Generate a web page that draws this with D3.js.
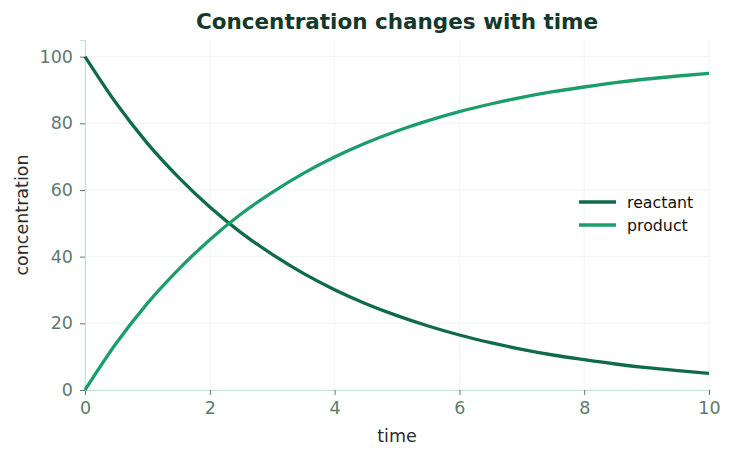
<!DOCTYPE html>
<html>
<head>
<meta charset="utf-8">
<script src="https://cdn.jsdelivr.net/npm/d3@7"></script>
<style>
  body { margin: 0; background: #fff; }
  text { font-family: "DejaVu Sans", sans-serif; }
</style>
</head>
<body>
<div class="chart"></div>
<script>
// values, every half unit of time
var times = [0, 0.5, 1, 1.5, 2, 2.5, 3, 3.5, 4, 4.5, 5, 5.5, 6, 6.5, 7, 7.5, 8, 8.5, 9, 9.5, 10];
var reactant = [100, 86, 74, 63.8, 54.9, 47.2, 40.7, 35, 30.1, 25.9, 22.3, 19.2, 16.5, 14.2, 12.2, 10.5, 9.1, 7.8, 6.7, 5.8, 5];
var product = [0, 14, 26, 36.2, 45.1, 52.8, 59.3, 65, 69.9, 74.1, 77.7, 80.8, 83.5, 85.8, 87.8, 89.5, 90.9, 92.2, 93.3, 94.2, 95];
var xTicks = [0, 2, 4, 6, 8, 10];
var yTicks = [0, 20, 40, 60, 80, 100];
var seriesNames = ['reactant', 'product'];
var seriesColors = ['#0f6b48', '#1b9e6b'];

var width = 733,
    height = 459,
    margin = {top: 40, right: 24, bottom: 69, left: 85};

var svg = d3.select('.chart').append('svg')
  .attr('width', width)
  .attr('height', height);

var x = d3.scaleLinear().domain([0, 10]).range([margin.left, width - margin.right]);
var y = d3.scaleLinear().domain([0, 105]).range([height - margin.bottom, margin.top]);

// grid
svg.append('g').selectAll('line.gx')
  .data(xTicks).enter().append('line')
  .attr('x1', function(d) { return x(d); })
  .attr('x2', function(d) { return x(d); })
  .attr('y1', y(0)).attr('y2', y(105))
  .style('stroke', '#eef5f2').style('stroke-width', 1);
svg.append('g').selectAll('line.gy')
  .data(yTicks).enter().append('line')
  .attr('x1', x(0)).attr('x2', x(10))
  .attr('y1', function(d) { return y(d); })
  .attr('y2', function(d) { return y(d); })
  .style('stroke', '#eef5f2').style('stroke-width', 1);

// axes
var xAxis = svg.append('g')
  .attr('transform', 'translate(0,' + y(0) + ')')
  .call(d3.axisBottom(x).tickValues(xTicks).tickSize(5).tickPadding(7).tickFormat(d3.format('d')));
var yAxis = svg.append('g')
  .attr('transform', 'translate(' + x(0) + ',0)')
  .call(d3.axisLeft(y).tickValues(yTicks).tickSize(5).tickPadding(7).tickFormat(d3.format('d')));

[xAxis, yAxis].forEach(function(a) {
  a.select('.domain').style('stroke', '#c6e2d6').style('stroke-width', 1.2);
  a.selectAll('.tick line').style('stroke', '#5d7a70');
  a.selectAll('.tick text')
    .style('fill', '#5d7a70')
    .style('font-size', '17.5px')
    .style('font-family', '"DejaVu Sans", sans-serif');
});

// lines
var line = d3.line()
  .x(function(d) { return x(d[0]); })
  .y(function(d) { return y(d[1]); })
  .curve(d3.curveMonotoneX);

[reactant, product].forEach(function(vals, i) {
  svg.append('path')
    .datum(times.map(function(t, j) { return [t, vals[j]]; }))
    .attr('d', line)
    .attr('fill', 'none')
    .style('stroke', seriesColors[i])
    .style('stroke-width', 3.3);
});

// title and labels
svg.append('text')
  .attr('x', (x(0) + x(10)) / 2).attr('y', 29)
  .attr('text-anchor', 'middle')
  .style('font-size', '21.5px').style('font-weight', 'bold')
  .style('fill', '#12392b')
  .text('Concentration changes with time');

svg.append('text')
  .attr('x', (x(0) + x(10)) / 2).attr('y', 442)
  .attr('text-anchor', 'middle')
  .style('font-size', '17.5px').style('fill', '#2b2b2b')
  .text('time');

svg.append('text')
  .attr('transform', 'translate(28,' + y(52.5) + ') rotate(-90)')
  .attr('text-anchor', 'middle')
  .style('font-size', '17.5px').style('fill', '#2b2b2b')
  .text('concentration');

// legend
var legend = svg.append('g').attr('transform', 'translate(579,202)');
seriesNames.forEach(function(name, i) {
  var row = legend.append('g').attr('transform', 'translate(0,' + (i * 23) + ')');
  row.append('line')
    .attr('x1', 0).attr('x2', 37).attr('y1', 0).attr('y2', 0)
    .style('stroke', seriesColors[i]).style('stroke-width', 3.3);
  row.append('text')
    .attr('x', 48).attr('y', 5.5)
    .style('font-size', '15.8px').style('fill', '#111')
    .text(name);
});
</script>
</body>
</html>
